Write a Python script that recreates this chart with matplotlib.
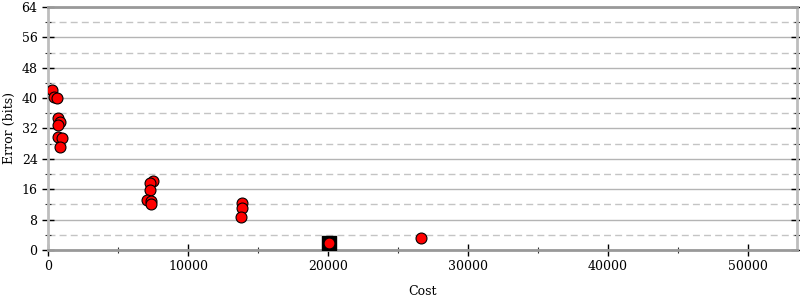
import matplotlib
matplotlib.use("Agg")
import matplotlib.pyplot as plt
from matplotlib.ticker import MultipleLocator

# points
cost = [290, 430, 640, 710, 860, 710, 710, 1000, 860,
        7500, 7290, 7290, 7070, 7360, 7360,
        13860, 13860, 13790,
        20070, 26640]
error = [42.1, 40.3, 40.0, 34.8, 33.7, 32.9, 29.8, 29.5, 27.1,
         18.2, 17.6, 15.8, 13.2, 13.0, 12.2,
         12.3, 11.1, 8.6,
         1.9, 3.2]

# highlighted point (square)
best_cost = [20070]
best_error = [1.9]

X_MAX = 53500
Y_MAX = 64
OUT_PNG = "out.png"


def main():
    plt.rcParams["font.family"] = "DejaVu Serif"
    plt.rcParams["font.size"] = 9

    fig = plt.figure(figsize=(8, 3), dpi=100)
    ax = fig.add_axes([0.06, 0.1667, 0.936, 0.81])

    ax.set_xlim(0, X_MAX)
    ax.set_ylim(0, Y_MAX)

    ax.xaxis.set_major_locator(MultipleLocator(10000))
    ax.xaxis.set_minor_locator(MultipleLocator(5000))
    ax.yaxis.set_major_locator(MultipleLocator(8))
    ax.yaxis.set_minor_locator(MultipleLocator(4))

    ax.grid(axis="y", which="major", color="#b4b4b4", lw=1.0, ls="-")
    ax.grid(axis="y", which="minor", color="#c4c4c4", lw=1.0, ls=(0, (5, 3)))
    ax.set_axisbelow(True)

    for side in ["left", "right"]:
        ax.spines[side].set_color("#bdbdbd")
        ax.spines[side].set_linewidth(2.0)
    for side in ["bottom", "top"]:
        ax.spines[side].set_color("#999999")
        ax.spines[side].set_linewidth(2.0)

    ax.tick_params(axis="both", which="major", direction="inout", length=9,
                   width=1.0, color="black", right=True, top=False, pad=3)
    ax.tick_params(axis="both", which="minor", direction="inout", length=5,
                   width=0.8, color="#333333", right=True, top=False)

    ax.scatter(best_cost, best_error, marker="s", s=110, color="black",
               zorder=3)
    ax.scatter(cost, error, s=62, color="red", edgecolor="black",
               linewidth=0.8, zorder=4)

    ax.set_xlabel("Cost", labelpad=8)
    ax.set_ylabel("Error (bits)", labelpad=4)

    fig.savefig(OUT_PNG, dpi=100)


if __name__ == "__main__":
    main()
